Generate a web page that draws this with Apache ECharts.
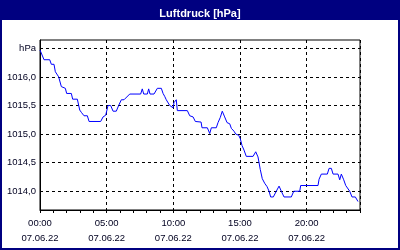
<!DOCTYPE html>
<html><head><meta charset="utf-8">
<script src="https://cdn.jsdelivr.net/npm/echarts@6/dist/echarts.min.js"></script>
<style>html,body{margin:0;padding:0;background:#000080}#c{width:400px;height:250px}</style>
</head><body><div id="c"></div>
<script>
// hours since 07.06.22 00:00
const hours = [0.0,0.3,0.73,0.85,1.05,1.15,1.4,1.6,1.7,1.9,2.0,2.35,2.45,2.8,2.98,3.1,3.3,3.55,3.68,4.55,4.73,4.93,5.1,5.3,5.48,5.72,5.9,6.1,6.3,6.73,7.55,7.67,7.78,8.05,8.15,8.25,8.55,8.8,9.1,9.23,9.35,9.47,9.6,9.73,9.85,9.98,10.05,10.22,10.3,11.05,11.23,11.48,11.65,12.08,12.15,12.55,12.73,12.85,13.22,13.35,13.52,13.67,13.85,14.03,14.23,14.35,14.55,14.68,14.9,15.02,15.15,15.3,15.47,15.98,16.18,16.35,16.52,16.67,16.85,17.03,17.18,17.3,17.5,17.72,17.93,18.05,18.1,18.3,18.85,19.03,19.48,19.55,20.85,20.93,21.1,21.55,21.68,21.85,21.98,22.35,22.48,22.6,22.78,22.93,23.08,23.23,23.4,23.65,23.85];
const pressure = [1016.47,1016.3,1016.3,1016.22,1016.22,1016.09,1016.0,1015.83,1015.8,1015.8,1015.71,1015.71,1015.61,1015.61,1015.42,1015.38,1015.32,1015.32,1015.22,1015.22,1015.3,1015.33,1015.5,1015.5,1015.4,1015.4,1015.5,1015.6,1015.6,1015.7,1015.7,1015.79,1015.7,1015.7,1015.79,1015.7,1015.7,1015.8,1015.8,1015.71,1015.66,1015.6,1015.57,1015.5,1015.5,1015.46,1015.55,1015.6,1015.41,1015.41,1015.32,1015.3,1015.22,1015.21,1015.11,1015.11,1015.01,1015.11,1015.11,1015.2,1015.29,1015.4,1015.3,1015.2,1015.18,1015.1,1015.05,1015.0,1014.98,1014.92,1014.8,1014.72,1014.61,1014.61,1014.69,1014.6,1014.38,1014.22,1014.14,1014.08,1014.0,1013.9,1013.9,1014.0,1014.09,1014.1,1014.0,1013.9,1013.9,1014.0,1014.0,1014.1,1014.1,1014.21,1014.3,1014.3,1014.4,1014.4,1014.3,1014.3,1014.2,1014.3,1014.2,1014.1,1014.1,1014.0,1013.9,1013.9,1013.82];
const yTicks = [1014.0,1014.5,1015.0,1015.5,1016.0,1016.5];
const xLabelHours = [0,5,10,15,20];
const dateLabel = '07.06.22';
const unitLabel = 'hPa';
const titleText = 'Luftdruck [hPa]';

const pad = n => (n < 10 ? '0' : '') + n;
const series = hours.map((h, i) => [h, pressure[i]]);
const font = 'Liberation Sans';
const chart = echarts.init(document.getElementById('c'), null, {renderer: 'canvas'});
chart.setOption({
  animation: false,
  backgroundColor: '#000080',
  title: {text: titleText, left: 'center', top: 3, textStyle: {color: '#ffffff', fontFamily: font, fontSize: 11, fontWeight: 'bold'}},
  graphic: [{type: 'rect', z: -10, shape: {x: 2, y: 20, width: 396, height: 228}, style: {fill: '#ffffff'}}],
  grid: {left: 40, top: 40, width: 320, height: 170, show: true, borderColor: '#000', borderWidth: 1, backgroundColor: 'transparent'},
  xAxis: [
    {type: 'value', min: 0, max: 24, interval: 1, position: 'bottom',
     axisLine: {lineStyle: {color: '#000', width: 1}},
     axisTick: {show: true, inside: false, length: 3, lineStyle: {color: '#000'}},
     axisLabel: {show: false}, splitLine: {show: false}},
    {type: 'value', min: 0, max: 24, interval: 5, position: 'bottom',
     axisLine: {show: false}, axisTick: {show: false},
     splitLine: {show: true, lineStyle: {color: '#000', type: [3, 3], width: 1}},
     axisLabel: {show: true, margin: 6, color: '#000020', fontFamily: font, fontSize: 9.5, lineHeight: 15,
       formatter: v => xLabelHours.indexOf(v) >= 0 ? pad(v) + ':00\n' + dateLabel : ''}}
  ],
  yAxis: {type: 'value', min: 1013.672, max: 1016.645,
    axisLine: {show: true, lineStyle: {color: '#000', width: 1}},
    axisTick: {show: false, customValues: yTicks},
    splitLine: {show: true, lineStyle: {color: '#000', type: [3, 3], width: 1}},
    axisLabel: {show: true, margin: 4, color: '#000020', fontFamily: font, fontSize: 9.5, customValues: yTicks,
      formatter: v => Math.abs(v - 1016.5) < 1e-6 ? unitLabel : v.toFixed(1).replace('.', ',')}},
  series: [{type: 'line', xAxisIndex: 0, data: series, showSymbol: false, symbol: 'none',
    lineStyle: {color: '#0000ff', width: 1}, z: 5}]
});
</script></body></html>
